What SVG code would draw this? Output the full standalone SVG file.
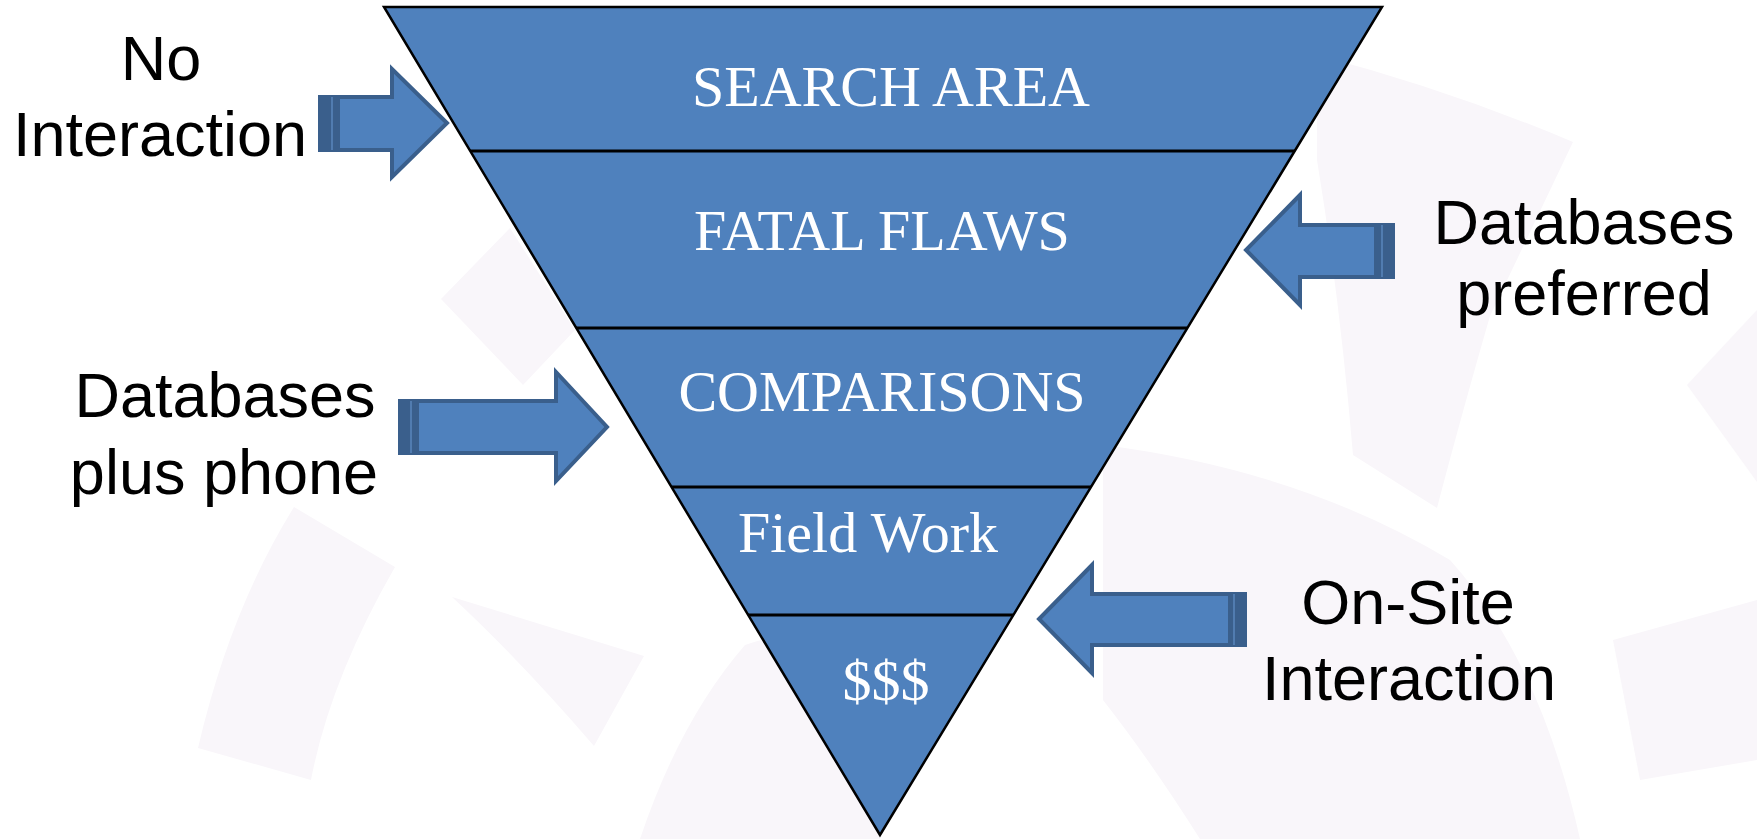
<svg xmlns="http://www.w3.org/2000/svg" width="1757" height="839" viewBox="0 0 1757 839">
<style>
.lbl{font-family:"Liberation Sans",Arial,sans-serif;font-size:63px;fill:#000;text-anchor:middle}
.tier{font-family:"Liberation Serif","Times New Roman",serif;font-size:58px;fill:#fff;text-anchor:middle}
.arrow{fill:#4f81bd;stroke:#3a5f8c;stroke-width:4;stroke-linejoin:miter}
.band{fill:#3a5f8c}
.bandline{stroke:#5a86bd;stroke-width:1.5}
.wm{fill:#f9f6fa}
.div{stroke:#000;stroke-width:3}
</style>
<rect width="1757" height="839" fill="#fff"/>
<g id="watermark">
<path class="wm" d="M294,507 L395,567 Q330,680 311,780 L198,748 Q230,610 294,507 Z"/>
<path class="wm" d="M452,597 L644,656 L594,746 Q520,660 452,597 Z"/>
<polygon class="wm" points="441,299 510,228 575,330 523,385"/>
<path class="wm" d="M1317,55 Q1450,90 1573,142 L1490,316 Q1460,420 1437,508 L1353,455 Q1340,300 1317,160 Z"/>
<polygon class="wm" points="1687,385 1757,310 1757,482"/>
<path class="wm" d="M1103,445 Q1300,470 1450,560 Q1540,660 1580,839 L1200,839 Q1150,760 1103,700 Z"/>
<path class="wm" d="M745,645 Q800,625 860,640 L880,839 L640,839 Q680,720 745,645 Z"/>
<path class="wm" d="M1613,640 L1757,600 L1757,760 L1640,780 Z"/>
</g>
<g id="funnel">
<polygon points="384,7 1382,7 880,835" fill="#4f81bd" stroke="#000" stroke-width="2.5" stroke-linejoin="miter"/>
</g>
<g id="dividers">
<line class="div" x1="470" y1="151" x2="1295" y2="151"/>
<line class="div" x1="576" y1="328" x2="1187" y2="328"/>
<line class="div" x1="672" y1="487" x2="1091" y2="487"/>
<line class="div" x1="748" y1="615" x2="1013" y2="615"/>
</g>
<g id="tier-search"><text class="tier" x="891" y="106">SEARCH AREA</text></g>
<g id="tier-fatal"><text class="tier" x="882" y="250">FATAL FLAWS</text></g>
<g id="tier-comparisons"><text class="tier" x="882" y="411">COMPARISONS</text></g>
<g id="tier-field"><text class="tier" x="868" y="552">Field Work</text></g>
<g id="tier-money"><text class="tier" x="886" y="700">$$$</text></g>
<g id="connectors">
<g id="arrow-no-interaction">
<rect class="band" x="318" y="95" width="22" height="57"/>
<line class="bandline" x1="332" y1="97" x2="332" y2="150"/>
<polygon class="arrow" points="338,97 392,97 392,69 447,123 392,177 392,150 338,150"/>
</g>
<g id="arrow-db-preferred">
<rect class="band" x="1374" y="223" width="21" height="56"/>
<line class="bandline" x1="1382" y1="225" x2="1382" y2="277"/>
<polygon class="arrow" points="1376,225 1300,225 1300,195 1246,250 1300,305 1300,277 1376,277"/>
</g>
<g id="arrow-db-phone">
<rect class="band" x="398" y="399" width="21" height="56"/>
<line class="bandline" x1="411" y1="401" x2="411" y2="453"/>
<polygon class="arrow" points="417,401 556,401 556,372 607,427 556,481 556,453 417,453"/>
</g>
<g id="arrow-onsite">
<rect class="band" x="1226" y="592" width="21" height="55"/>
<line class="bandline" x1="1234" y1="594" x2="1234" y2="645"/>
<polygon class="arrow" points="1230,594 1092,594 1092,565 1039,619 1092,673 1092,645 1230,645"/>
</g>
</g>
<g id="label-no-interaction"><text class="lbl" x="161" y="80">No</text><text class="lbl" x="160" y="156">Interaction</text></g>
<g id="label-db-preferred"><text class="lbl" x="1584" y="244">Databases</text><text class="lbl" x="1584" y="315">preferred</text></g>
<g id="label-db-phone"><text class="lbl" x="225" y="417">Databases</text><text class="lbl" x="224" y="494">plus phone</text></g>
<g id="label-onsite"><text class="lbl" x="1408" y="624">On-Site</text><text class="lbl" x="1409" y="700">Interaction</text></g>
</svg>
